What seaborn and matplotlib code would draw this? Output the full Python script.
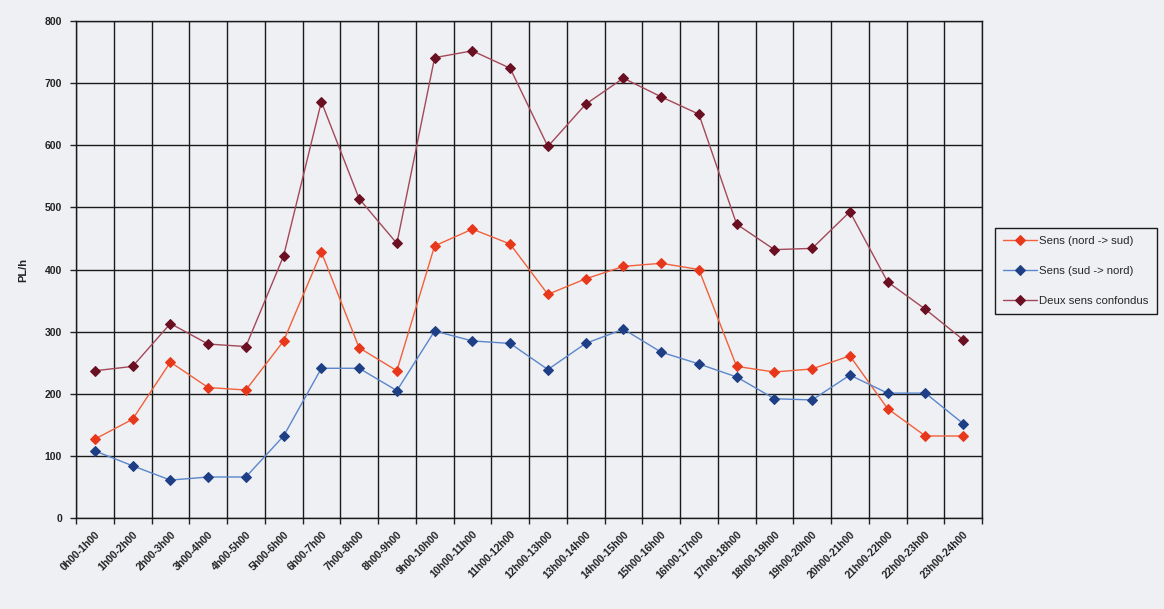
import numpy as np
import pandas as pd
import matplotlib
matplotlib.use("Agg")
import matplotlib.pyplot as plt
import seaborn as sns

# Hourly heavy-vehicle flows (PL/h)
periods = ["0h00-1h00", "1h00-2h00", "2h00-3h00", "3h00-4h00", "4h00-5h00",
           "5h00-6h00", "6h00-7h00", "7h00-8h00", "8h00-9h00", "9h00-10h00",
           "10h00-11h00", "11h00-12h00", "12h00-13h00", "13h00-14h00",
           "14h00-15h00", "15h00-16h00", "16h00-17h00", "17h00-18h00",
           "18h00-19h00", "19h00-20h00", "20h00-21h00", "21h00-22h00",
           "22h00-23h00", "23h00-24h00"]
nord_sud = [127, 159, 251, 210, 206, 285, 428, 274, 237, 438, 465, 441,
            360, 385, 405, 410, 400, 244, 235, 240, 261, 176, 132, 132]
sud_nord = [108, 84, 61, 66, 66, 132, 241, 241, 205, 301, 285, 281,
            239, 281, 304, 267, 248, 227, 192, 190, 230, 201, 201, 152]
deux_sens = [237, 244, 313, 280, 276, 422, 670, 514, 442, 741, 752, 724,
             598, 666, 708, 678, 650, 473, 432, 434, 493, 380, 336, 287]
series_names = ["Sens (nord -> sud)", "Sens (sud -> nord)", "Deux sens confondus"]
y_ticks = [0, 100, 200, 300, 400, 500, 600, 700, 800]

line_colors = ["#f2603c", "#5a86cc", "#a4485a"]
marker_colors = ["#e8381c", "#1e3f86", "#6a1022"]

rows = []
for name, vals in zip(series_names, [nord_sud, sud_nord, deux_sens]):
    for i, v in enumerate(vals):
        rows.append({"pos": i, "periode": periods[i], "PL/h": v, "serie": name})
df = pd.DataFrame(rows)

sns.set_theme(style="white")
plt.rcParams["font.family"] = ["Liberation Sans Narrow", "Liberation Sans", "DejaVu Sans"]

bg = "#eef0f3"
fig = plt.figure(figsize=(11.64, 6.09), dpi=100, facecolor=bg)
ax = fig.add_axes([76 / 1164, 1 - 518 / 609, (982 - 76) / 1164, (518 - 21) / 609])
ax.set_facecolor(bg)

sns.lineplot(data=df, x="pos", y="PL/h", hue="serie", hue_order=series_names,
             palette=dict(zip(series_names, line_colors)), marker="D",
             markersize=4.8, linewidth=1.0, ax=ax, legend=True)

for line, mc in zip(ax.lines[:3], marker_colors):
    line.set_markerfacecolor(mc)
    line.set_markeredgecolor(mc)

ax.set_xlim(-0.5, len(periods) - 0.5)
ax.set_ylim(0, 800)
ax.set_yticks(y_ticks)
ax.set_yticklabels([str(t) for t in y_ticks], fontsize=7.5, fontweight="bold", color="#222222")
ax.set_xticks(range(len(periods)))
ax.set_xticklabels(periods, rotation=45, ha="right", rotation_mode="anchor",
                   fontsize=7.5, fontweight="bold", color="#222222")
ax.set_xticks(np.arange(len(periods) + 1) - 0.5, minor=True)
ax.tick_params(axis="x", which="major", length=0, pad=8)
ax.tick_params(axis="x", which="minor", length=4, width=1, color="#222222", bottom=True)
ax.tick_params(axis="y", which="major", length=4, width=1, color="#222222", left=True, pad=6)

ax.grid(False)
ax.grid(axis="y", which="major", color="#1a1a1a", linewidth=1.0)
ax.grid(axis="x", which="minor", color="#1a1a1a", linewidth=1.0)
ax.set_axisbelow(True)
for s in ax.spines.values():
    s.set_color("#1a1a1a")
    s.set_linewidth(1.0)

ax.set_xlabel("")
ax.set_ylabel("PL/h", fontsize=8, fontweight="bold", color="#222222", labelpad=12)

handles, labels = ax.get_legend_handles_labels()
for h, mc in zip(handles, marker_colors):
    h.set_markerfacecolor(mc)
    h.set_markeredgecolor(mc)
ax.legend(handles, labels, loc="upper left",
          bbox_to_anchor=(995 / 1164, 1 - 228 / 609), bbox_transform=fig.transFigure,
          fontsize=8.2, frameon=True, fancybox=False, edgecolor="#1a1a1a",
          facecolor=bg, framealpha=1, handlelength=3.0, labelspacing=1.75,
          borderpad=0.7, handletextpad=0.2, borderaxespad=0)

fig.savefig("out.png", dpi=100, facecolor=bg)
